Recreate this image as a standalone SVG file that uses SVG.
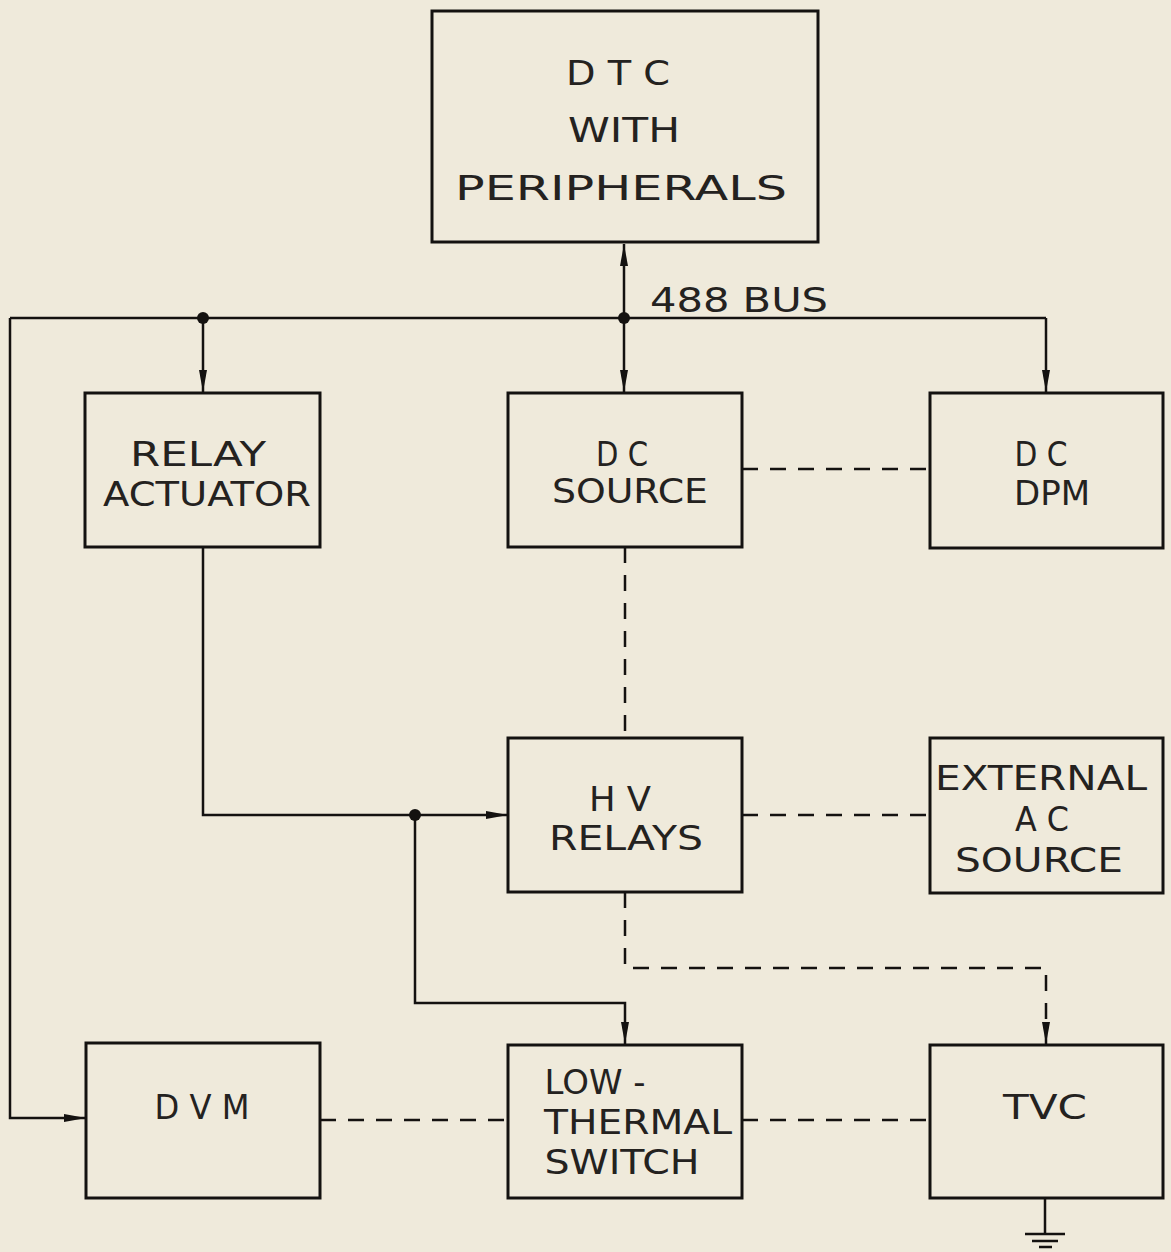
<svg xmlns="http://www.w3.org/2000/svg" width="1171" height="1252" viewBox="0 0 1171 1252">
<style>
.box{fill:none;stroke:#141210;stroke-width:3}
.ln{fill:none;stroke:#141210;stroke-width:2.5}
.dash{fill:none;stroke:#141210;stroke-width:2.5;stroke-dasharray:16 12}
.t{font-family:"DejaVu Sans","Liberation Sans",sans-serif;font-size:34px;fill:#24221f;text-anchor:middle;font-weight:normal}
.dot{fill:#141210}
</style>
<defs>
<marker id="ah" viewBox="0 0 22 10" refX="22" refY="5" markerWidth="22" markerHeight="10" markerUnits="userSpaceOnUse" orient="auto-start-reverse">
<path d="M0,1 L22,5 L0,9 Z" fill="#141210"/>
</marker>
</defs>
<rect width="1171" height="1252" fill="#efeadb"/>
<g id="connectors">
<path class="ln" d="M624,244 V318" marker-start="url(#ah)"/>
<path class="ln" d="M624,318 V392" marker-end="url(#ah)"/>
<path class="ln" d="M10,318 H1046"/>
<path class="ln" d="M1046,318 V392" marker-end="url(#ah)"/>
<path class="ln" d="M203,318 V392" marker-end="url(#ah)"/>
<path class="ln" d="M10,318 V1118 H86" marker-end="url(#ah)"/>
<path class="ln" d="M203,547 V815 H508" marker-end="url(#ah)"/>
<path class="ln" d="M415,815 V1003 H625 V1044" marker-end="url(#ah)"/>
<circle class="dot" cx="203" cy="318" r="6"/>
<circle class="dot" cx="624" cy="318" r="6"/>
<circle class="dot" cx="415" cy="815" r="6"/>
<path class="dash" d="M742,469 H930"/>
<path class="dash" d="M625,547 V738"/>
<path class="dash" d="M742,815 H930"/>
<path class="dash" d="M625,892 V968 H1046 V1044" marker-end="url(#ah)"/>
<path class="dash" d="M320,1120 H508"/>
<path class="dash" d="M742,1120 H930"/>
<text class="t" x="739" y="312" textLength="178" lengthAdjust="spacingAndGlyphs">488 BUS</text>
</g>
<g id="dtc">
<rect class="box" x="432" y="11" width="386" height="231"/>
<text class="t" x="618" y="85" textLength="104" lengthAdjust="spacingAndGlyphs">D T C</text>
<text class="t" x="624" y="142" textLength="112" lengthAdjust="spacingAndGlyphs">WITH</text>
<text class="t" x="621" y="200" textLength="332" lengthAdjust="spacingAndGlyphs">PERIPHERALS</text>
</g>
<g id="relay-actuator">
<rect class="box" x="85" y="393" width="235" height="154"/>
<text class="t" x="198" y="466" textLength="136" lengthAdjust="spacingAndGlyphs">RELAY</text>
<text class="t" x="207" y="506" textLength="208" lengthAdjust="spacingAndGlyphs">ACTUATOR</text>
</g>
<g id="dc-source">
<rect class="box" x="508" y="393" width="234" height="154"/>
<text class="t" x="622" y="466" textLength="52" lengthAdjust="spacingAndGlyphs">D C</text>
<text class="t" x="630" y="503" textLength="156" lengthAdjust="spacingAndGlyphs">SOURCE</text>
</g>
<g id="dc-dpm">
<rect class="box" x="930" y="393" width="233" height="155"/>
<text class="t" x="1041" y="466" textLength="53" lengthAdjust="spacingAndGlyphs">D C</text>
<text class="t" x="1052" y="505" textLength="76" lengthAdjust="spacingAndGlyphs">DPM</text>
</g>
<g id="hv-relays">
<rect class="box" x="508" y="738" width="234" height="154"/>
<text class="t" x="620" y="811" textLength="62" lengthAdjust="spacingAndGlyphs">H V</text>
<text class="t" x="626" y="850" textLength="154" lengthAdjust="spacingAndGlyphs">RELAYS</text>
</g>
<g id="external-ac-source">
<rect class="box" x="930" y="738" width="233" height="155"/>
<text class="t" x="1041" y="790" textLength="212" lengthAdjust="spacingAndGlyphs">EXTERNAL</text>
<text class="t" x="1042" y="831" textLength="54" lengthAdjust="spacingAndGlyphs">A C</text>
<text class="t" x="1039" y="872" textLength="168" lengthAdjust="spacingAndGlyphs">SOURCE</text>
</g>
<g id="dvm">
<rect class="box" x="86" y="1043" width="234" height="155"/>
<text class="t" x="202" y="1119" textLength="95" lengthAdjust="spacingAndGlyphs">D V M</text>
</g>
<g id="low-thermal-switch">
<rect class="box" x="508" y="1045" width="234" height="153"/>
<text class="t" x="595" y="1094" textLength="101" lengthAdjust="spacingAndGlyphs">LOW -</text>
<text class="t" x="638" y="1134" textLength="188" lengthAdjust="spacingAndGlyphs">THERMAL</text>
<text class="t" x="622" y="1174" textLength="155" lengthAdjust="spacingAndGlyphs">SWITCH</text>
</g>
<g id="tvc">
<rect class="box" x="930" y="1045" width="233" height="153"/>
<text class="t" x="1045" y="1119" textLength="84" lengthAdjust="spacingAndGlyphs">TVC</text>
<path class="ln" d="M1045,1198 V1233 M1025,1234 H1065 M1032,1241 H1058 M1039,1247 H1052"/>
</g>
</svg>
